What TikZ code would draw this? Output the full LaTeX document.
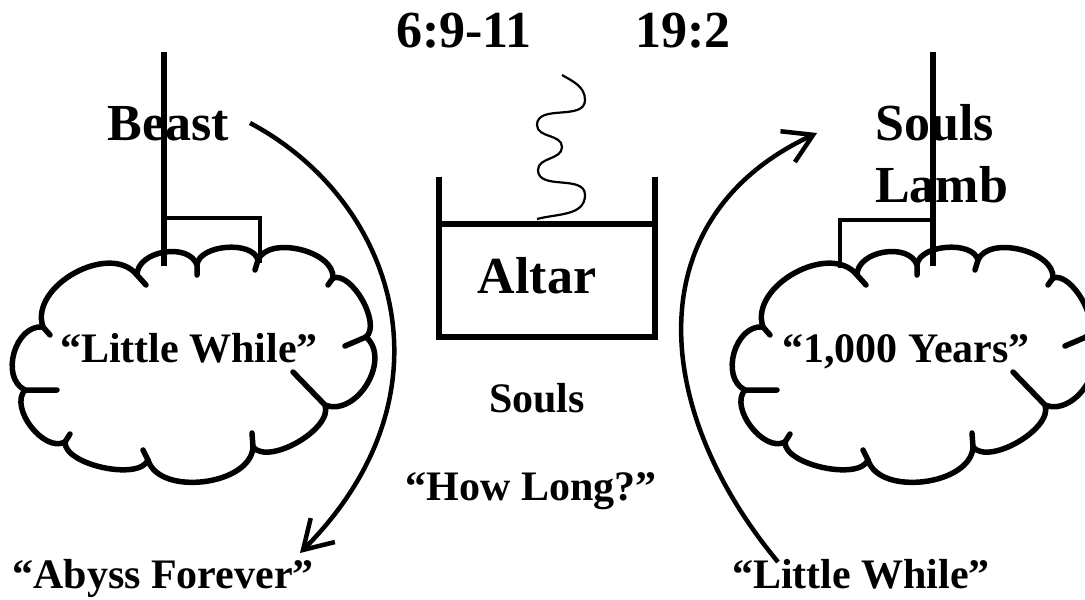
\documentclass[tikz,border=0pt]{standalone}
\usepackage{fontspec}
\setmainfont{Liberation Serif}
\usetikzlibrary{arrows.meta}
\begin{document}
\begin{tikzpicture}[x=1pt,y=-1pt,
  bigtext/.style={font=\fontsize{52}{60}\selectfont\bfseries, inner sep=0pt, anchor=base},
  midtext/.style={font=\fontsize{42}{50}\selectfont\bfseries, inner sep=0pt, anchor=base},
  cloudtext/.style={font=\fontsize{42}{50}\selectfont\bfseries, inner sep=0pt, anchor=base},
  heavyline/.style={line width=5.5pt},
  bracketline/.style={line width=4.5pt},
  cloudline/.style={line width=5.5pt, line join=round, line cap=round},
  lobe/.style={bend left=80, looseness=#1},
  curvarrow/.style={line width=4.5pt, -{Straight Barb[length=28pt,width=34pt]}},
  wave/.style={line width=2.2pt},
  cloudpic/.pic={
    \draw[cloudline] (137,275) to[lobe=1.03] (197,265) to[lobe=0.86] (258,260)
      to[lobe=0.9] (333,278) to[lobe=0.76] (366,337) to[lobe=1.1] (325,405)
      to[lobe=0.76] (253,447) to[lobe=0.93] (148,460) to[lobe=0.69] (65,442)
      to[lobe=0.93] (25,390) to[lobe=1.1] (43,327) to[lobe=1.03] (137,275);
    \draw[cloudline] (137,275) -- (146,285) (197,265) -- (197,275)
      (258,260) -- (255,270) (333,278) -- (328,285) (366,337) -- (345,346)
      (325,405) -- (293,372) (253,447) -- (252,433) (148,460) -- (143,450)
      (65,442) -- (70,434) (25,390) -- (57,390) (43,327) -- (50,335);
  }
]
\useasboundingbox (0,0) rectangle (1085,600);

% clouds
\pic at (0,0) {cloudpic};
\pic at (720,0) {cloudpic};

% poles and brackets
\draw[heavyline] (164,52) -- (164,266);
\draw[bracketline] (164,218) -- (260,218) -- (260,263);
\draw[heavyline] (933,52) -- (933,266);
\draw[bracketline] (933,220) -- (840,220) -- (840,268);

% altar
\draw[heavyline] (439,177) -- (439,337) -- (655,337) -- (655,177);
\draw[heavyline] (439,224) -- (655,224);
\draw[wave] (537,219) to[out=15,in=-90] (585,195) to[out=90,in=-90] (538,170)
  to[out=90,in=-90] (562,147) to[out=90,in=-90] (537,125)
  to[out=90,in=-90] (585,100) to[out=90,in=-30] (562,75);

% texts
\node[bigtext] (ref1) at (464,47) {6:9-11};
\node[bigtext] (ref2) at (683,47) {19:2};
\node[bigtext] (beast) at (168,140) {Beast};
\node[bigtext, anchor=base west] (soulsR) at (875,140) {Souls};
\node[bigtext, anchor=base west] (lamb) at (875,202) {Lamb};
\node[bigtext] (altar) at (537,293) {Altar};
\node[midtext] (souls) at (537,412) {Souls};
\node[midtext] (howlong) at (531,500) {“How Long?”};
\node[cloudtext] (lwA) at (189,362) {“Little While”};
\node[cloudtext] (years) at (906,362) {“1,000 Years”};
\node[cloudtext] (abyss) at (163,588) {“Abyss Forever”};
\node[cloudtext] (lwB) at (861,588) {“Little While”};

% arrows
\coordinate (aStart) at (250,123);
\coordinate (aEnd) at (300,553);
\coordinate (bStart) at (778,562);
\coordinate (bEnd) at (817,133);
\draw[curvarrow] (aStart) .. controls (395,200) and (460,392) .. (aEnd);
\draw[curvarrow] (bStart) .. controls (650,408) and (637,217) .. (bEnd);
\end{tikzpicture}
\end{document}
